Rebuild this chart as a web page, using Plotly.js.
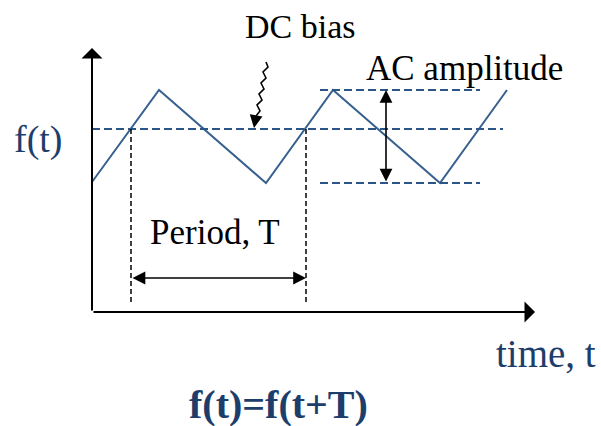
<!DOCTYPE html>
<html>
<head>
<meta charset="utf-8">
<script src="https://cdn.plot.ly/plotly-3.0.1.min.js"></script>
<style>html,body{margin:0;padding:0;background:#fff;}#chart{width:601px;height:426px;}</style>
</head>
<body>
<div id="chart"></div>
<script>
// ---- data (time t, value f) ----
var wave_t = [0, 6.7, 17.4, 24.1, 34.8, 41.5];
var wave_f = [13.0, 22.2, 12.9, 22.2, 12.9, 22.2];
var dc_bias = 18.3;
var dc_line_t = [0, 41.1];
var ac_high = 22.2;
var ac_low = 12.9;
var ac_line_t = [22.8, 38.8];
var ac_arrow_t = 29.4;
var period_start = 3.9;
var period_end = 21.4;
var period_arrow_f = 3.4;
var period_guide_bottom = 0.9;
var axis_t_max = 44.3;
var axis_f_max = 26.4;
var dc_pointer_t = [17.4, 17.6, 17.1, 17.4, 16.9, 17.2, 16.7, 17.0, 16.5, 16.8, 16.4];
var dc_pointer_f = [25.0, 24.5, 24.0, 23.4, 22.9, 22.3, 21.8, 21.2, 20.7, 20.1, 19.6];
var dc_pointer_tip = [16.2, 18.4];
var labels = {dc: "DC bias", ac: "AC amplitude", ft: "f(t)", period: "Period, T", time: "time, t", eq: "<b>f(t)=f(t+T)</b>"};

// pixel helpers for layout placement only
function tx(px){ return (px - 92) / 10; }
function fy(py){ return (312 - py) / 10; }

var navy = "#1d3d6b";
var waveColor = "#37608f";
var dashBlue = "#2a5586";
var serif = "'Liberation Serif', 'DejaVu Serif', serif";

var traces = [
  {x: wave_t, y: wave_f, mode: "lines", line: {color: waveColor, width: 2}, hoverinfo: "skip"},
  {x: dc_line_t, y: [dc_bias, dc_bias], mode: "lines", line: {color: dashBlue, width: 2, dash: "8px,4px"}, hoverinfo: "skip"},
  {x: ac_line_t, y: [ac_high, ac_high], mode: "lines", line: {color: dashBlue, width: 2, dash: "8px,4px"}, hoverinfo: "skip"},
  {x: ac_line_t, y: [ac_low, ac_low], mode: "lines", line: {color: dashBlue, width: 2, dash: "8px,4px"}, hoverinfo: "skip"},
  {x: [period_start, period_start], y: [dc_bias, period_guide_bottom], mode: "lines", line: {color: "#000", width: 1.5, dash: "5px,3px"}, hoverinfo: "skip"},
  {x: [period_end, period_end], y: [dc_bias, period_guide_bottom], mode: "lines", line: {color: "#000", width: 1.5, dash: "5px,3px"}, hoverinfo: "skip"},
  {x: dc_pointer_t, y: dc_pointer_f, mode: "lines", line: {color: "#000", width: 1.6}, hoverinfo: "skip"}
];

function arrow(x, y, ax, ay, opts){
  var a = {x: x, y: y, ax: ax, ay: ay, xref: "x", yref: "y", axref: "x", ayref: "y",
    text: "", showarrow: true, arrowcolor: "#000", arrowwidth: 2, arrowhead: 1, arrowsize: 1.75, standoff: 0, startstandoff: 0};
  for (var k in opts) a[k] = opts[k];
  return a;
}
function label(text, px, py, size, color){
  return {x: tx(px), y: fy(py), xref: "x", yref: "y", text: text, showarrow: false,
    xanchor: "center", yanchor: "middle", font: {family: serif, size: size, color: color}};
}

var annotations = [
  arrow(0, axis_f_max, 0, 0, {}),
  arrow(axis_t_max, 0, 0, 0, {}),
  arrow(ac_arrow_t, ac_high, ac_arrow_t, ac_low, {arrowhead: 2, arrowside: "end+start", arrowwidth: 1.6, arrowsize: 1.6, startarrowhead: 2, startarrowsize: 1.6}),
  arrow(period_end, period_arrow_f, period_start, period_arrow_f, {arrowhead: 2, arrowside: "end+start", arrowwidth: 1.6, arrowsize: 1.6, startarrowhead: 2, startarrowsize: 1.6}),
  arrow(dc_pointer_tip[0], dc_pointer_tip[1], dc_pointer_t[dc_pointer_t.length-1], dc_pointer_f[dc_pointer_f.length-1], {arrowhead: 2, arrowwidth: 1.6, arrowsize: 1.6}),
  label(labels.dc, 300, 26, 34, "#000"),
  label(labels.ac, 464, 68, 35, "#000"),
  label(labels.ft, 38, 139, 38, navy),
  label(labels.period, 215, 232, 35, "#000"),
  label(labels.time, 546, 353, 39, navy),
  label(labels.eq, 278, 404, 40, navy)
];

var layout = {
  width: 601, height: 426,
  margin: {l: 0, r: 0, t: 0, b: 0, pad: 0},
  paper_bgcolor: "#fff", plot_bgcolor: "#fff",
  showlegend: false,
  font: {family: serif},
  xaxis: {range: [tx(0), tx(601)], visible: false, fixedrange: true},
  yaxis: {range: [fy(426), fy(0)], visible: false, fixedrange: true},
  annotations: annotations
};

Plotly.newPlot("chart", traces, layout, {staticPlot: true, displayModeBar: false});
</script>
</body>
</html>
